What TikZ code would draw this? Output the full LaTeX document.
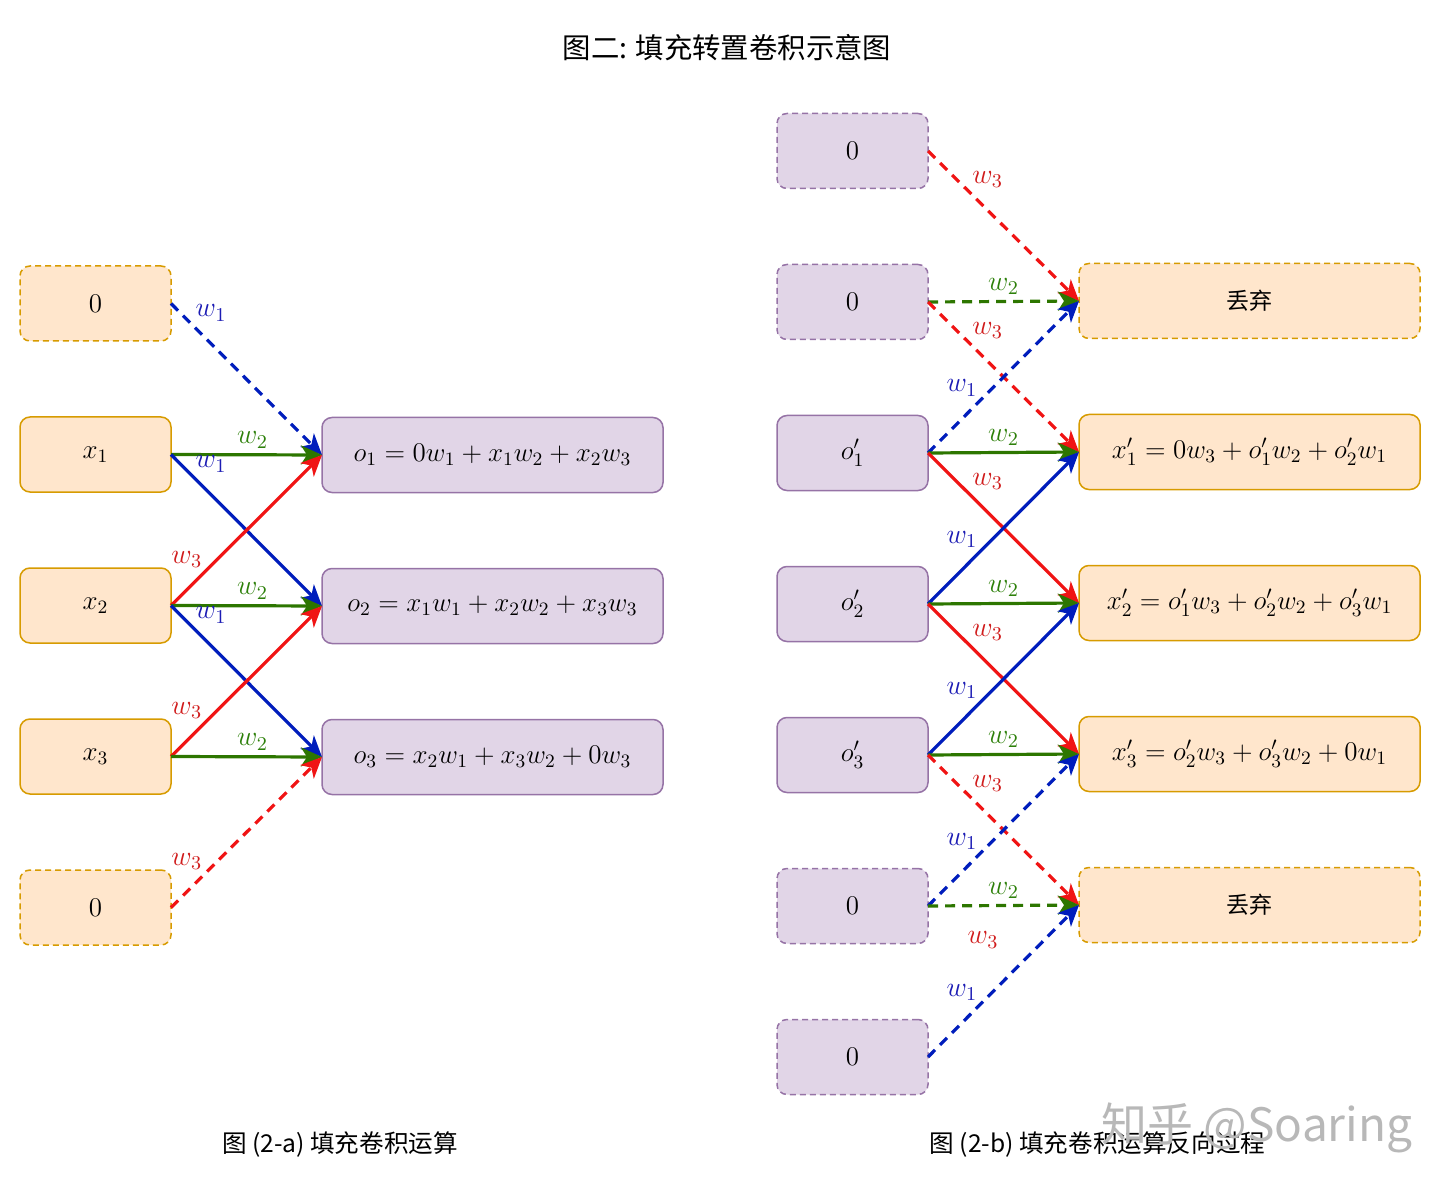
\RequirePackage{fix-cm}
\documentclass[tikz,border=0pt]{standalone}
\usepackage{amsmath}
\usepackage{fontspec}
\newfontfamily\cjk{Noto Sans CJK SC}
\usetikzlibrary{arrows.meta,chains,positioning,scopes,calc}

\definecolor{inFill}{HTML}{FFE6CC}
\definecolor{inDraw}{HTML}{D79B00}
\definecolor{outFill}{HTML}{E1D5E7}
\definecolor{outDraw}{HTML}{9673A6}
\definecolor{wBlue}{HTML}{001DBC}
\definecolor{wGreen}{HTML}{2D7600}
\definecolor{wRed}{HTML}{F01414}
\definecolor{labBlue}{HTML}{1C1CB4}
\definecolor{labGreen}{HTML}{2D800A}
\definecolor{labRed}{HTML}{D01C1C}

\begin{document}
\begin{tikzpicture}[
                x = 0.5pt, y = -0.5pt,
                node distance = 38pt,
                Block/.style={rounded corners=5pt, line width=0.75pt, minimum height=37.5pt, outer sep=0pt,
                              font=\fontsize{13.5}{16}\selectfont, on chain},
                OrangeBlock/.style={Block, draw=inDraw, fill=inFill, minimum width=75.5pt},
                PurpleBlock/.style={Block, draw=outDraw, fill=outFill, minimum width=75.5pt},
                OrangeWide/.style={Block, draw=inDraw, fill=inFill, minimum width=170.5pt},
                PurpleWide/.style={Block, draw=outDraw, fill=outFill, minimum width=170.5pt},
                PadBlock/.style={dash pattern=on 3pt off 2pt},
                Conn/.style={line width=1.6pt, -{Stealth[length=10.5pt, width=9.5pt, inset=3pt]}},
                PadConn/.style={dash pattern=on 5pt off 3.5pt},
                ArrowOne/.style={Conn, draw=wBlue},
                ArrowTwo/.style={Conn, draw=wGreen},
                ArrowThree/.style={Conn, draw=wRed},
                Lab/.style={inner sep=1pt, font=\fontsize{14}{16}\selectfont},
                LabOne/.style={Lab, text=labBlue},
                LabTwo/.style={Lab, text=labGreen},
                LabThree/.style={Lab, text=labRed},
            ]
            \useasboundingbox (0,0) rectangle (1440,1192);

            \node [font=\cjk\fontsize{14.2}{17}\selectfont] (title) at (727,48) {图二: 填充转置卷积示意图};

            % (2-a) inputs and outputs
            { [start chain = going below]
                \node [OrangeBlock, PadBlock] (pa0) at (95.5,303.5) {$0$};
                \node [OrangeBlock] (x1) {$x_1$};
                \node [OrangeBlock] (x2) {$x_2$};
                \node [OrangeBlock] (x3) {$x_3$};
                \node [OrangeBlock, PadBlock] (pa4) {$0$};
            }
            { [start chain = going below]
                \node [PurpleWide] (o1) at (492.5,455) {$o_1 = 0w_1 + x_1w_2 + x_2w_3$};
                \node [PurpleWide] (o2) {$o_2 = x_1w_1 + x_2w_2 + x_3w_3$};
                \node [PurpleWide] (o3) {$o_3 = x_2w_1 + x_3w_2 + 0w_3$};
            }

            \draw [ArrowOne, PadConn] (pa0.east) -- (o1.west) node [LabOne, pos=.14, anchor=south west] {$w_1$};
            \draw [ArrowTwo] (x1.east) -- (o1.west) node [LabTwo, pos=.54, above=1.5pt] {$w_2$};
            \draw [ArrowOne] (x1.east) -- (o2.west) node [LabOne, pos=.14, anchor=south west] {$w_1$};
            \draw [ArrowThree] (x2.east) -- (o1.west) node [LabThree, pos=.23, anchor=south east] {$w_3$};
            \draw [ArrowTwo] (x2.east) -- (o2.west) node [LabTwo, pos=.54, above=1.5pt] {$w_2$};
            \draw [ArrowOne] (x2.east) -- (o3.west) node [LabOne, pos=.14, anchor=south west] {$w_1$};
            \draw [ArrowThree] (x3.east) -- (o2.west) node [LabThree, pos=.23, anchor=south east] {$w_3$};
            \draw [ArrowTwo] (x3.east) -- (o3.west) node [LabTwo, pos=.54, above=1.5pt] {$w_2$};
            \draw [ArrowThree, PadConn] (pa4.east) -- (o3.west) node [LabThree, pos=.23, anchor=south east] {$w_3$};

            % (2-b) inputs and outputs
            { [start chain = going below]
                \node [PurpleBlock, PadBlock] (pb0) at (852.5,151) {$0$};
                \node [PurpleBlock, PadBlock] (pb1) {$0$};
                \node [PurpleBlock] (q1) {$o'_1$};
                \node [PurpleBlock] (q2) {$o'_2$};
                \node [PurpleBlock] (q3) {$o'_3$};
                \node [PurpleBlock, PadBlock] (pb5) {$0$};
                \node [PurpleBlock, PadBlock] (pb6) {$0$};
            }
            { [start chain = going below]
                \node [OrangeWide, PadBlock, font=\cjk\fontsize{11.5}{14}\selectfont] (drop1) at (1249.5,301) {丢弃};
                \node [OrangeWide] (r1) {$x'_1 = 0w_3 + o'_1w_2 + o'_2w_1$};
                \node [OrangeWide] (r2) {$x'_2 = o'_1w_3 + o'_2w_2 + o'_3w_1$};
                \node [OrangeWide] (r3) {$x'_3 = o'_2w_3 + o'_3w_2 + 0w_1$};
                \node [OrangeWide, PadBlock, font=\cjk\fontsize{11.5}{14}\selectfont] (drop2) {丢弃};
            }

            \draw [ArrowThree, PadConn] (pb0.east) -- (drop1.west) node [LabThree, pos=.27, anchor=south west] {$w_3$};
            \draw [ArrowTwo, PadConn] (pb1.east) -- (drop1.west) node [LabTwo, pos=.5, above=1.5pt] {$w_2$};
            \draw [ArrowThree, PadConn] (pb1.east) -- (r1.west) node [LabThree, pos=.27, anchor=south west] {$w_3$};
            \draw [ArrowOne, PadConn] (q1.east) -- (drop1.west) node [LabOne, pos=.35, anchor=south east] {$w_1$};
            \draw [ArrowTwo] (q1.east) -- (r1.west) node [LabTwo, pos=.5, above=1.5pt] {$w_2$};
            \draw [ArrowThree] (q1.east) -- (r2.west) node [LabThree, pos=.27, anchor=south west] {$w_3$};
            \draw [ArrowOne] (q2.east) -- (r1.west) node [LabOne, pos=.35, anchor=south east] {$w_1$};
            \draw [ArrowTwo] (q2.east) -- (r2.west) node [LabTwo, pos=.5, above=1.5pt] {$w_2$};
            \draw [ArrowThree] (q2.east) -- (r3.west) node [LabThree, pos=.27, anchor=south west] {$w_3$};
            \draw [ArrowOne] (q3.east) -- (r2.west) node [LabOne, pos=.35, anchor=south east] {$w_1$};
            \draw [ArrowTwo] (q3.east) -- (r3.west) node [LabTwo, pos=.5, above=1.5pt] {$w_2$};
            \draw [ArrowThree, PadConn] (q3.east) -- (drop2.west) node [LabThree, pos=.27, anchor=south west] {$w_3$};
            \draw [ArrowOne, PadConn] (pb5.east) -- (r3.west) node [LabOne, pos=.35, anchor=south east] {$w_1$};
            \draw [ArrowTwo, PadConn] (pb5.east) -- (drop2.west) node [LabTwo, pos=.5, above=1.5pt] {$w_2$};
            \node [LabThree] (lost) at ($(pb5.east)+(55,34)$) {$w_3$};
            \draw [ArrowOne, PadConn] (pb6.east) -- (drop2.west) node [LabOne, pos=.35, anchor=south east] {$w_1$};

            % captions
            \node [font=\cjk\fontsize{12.3}{15}\selectfont] (capA) at (340,1145) {图 (2-a) 填充卷积运算};
            \node [font=\cjk\fontsize{12.3}{15}\selectfont] (capB) at (1097.5,1145) {图 (2-b) 填充卷积运算反向过程};
            \node [font=\cjk\fontsize{23}{26}\selectfont, text=black!28] (mark) at (1257,1128) {知乎 @Soaring};
        \end{tikzpicture}
\end{document}
